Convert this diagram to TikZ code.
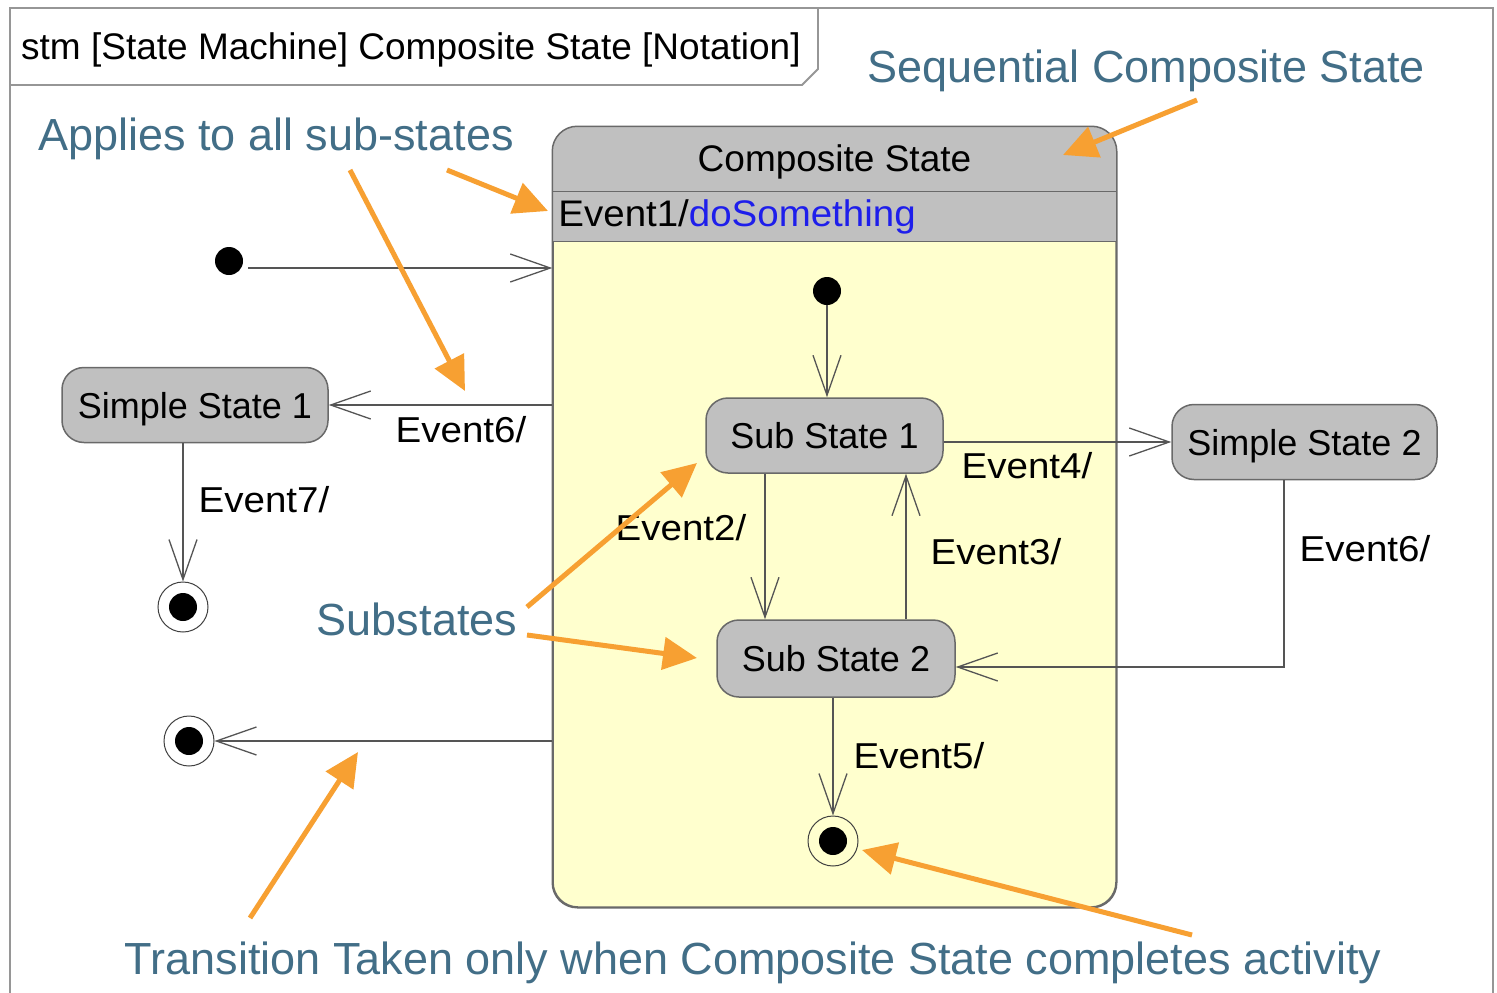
\documentclass[tikz,border=0pt]{standalone}
\usepackage{fontspec}
\setmainfont{Liberation Sans}
\usetikzlibrary{arrows.meta,calc}

\definecolor{stategray}{RGB}{192,192,192}
\definecolor{stateborder}{RGB}{105,105,105}
\definecolor{bodyyellow}{RGB}{255,255,206}
\definecolor{wire}{RGB}{85,85,85}
\definecolor{framegray}{RGB}{150,150,150}
\definecolor{notecol}{RGB}{66,110,135}
\definecolor{pointercol}{RGB}{247,160,50}
\definecolor{actionblue}{RGB}{30,30,235}

\newcommand{\fsz}[1]{\fontsize{#1}{#1}\selectfont}
% slightly widened text, as in the event labels
\newcommand{\wide}[1]{\scalebox{1.07}[1]{#1}}

\begin{document}
\begin{tikzpicture}[x=1pt,y=-1pt,
  state/.style={draw=stateborder, line width=1.5pt, fill=stategray,
    rounded corners=22pt, minimum height=75pt, inner sep=0pt, text depth=0pt,
    font=\fsz{36}},
  initial/.style={circle, fill=black, minimum size=28pt, inner sep=0pt},
  final/.style={circle, draw=black!75, line width=1pt, minimum size=50pt, inner sep=0pt,
    path picture={\fill[black] (path picture bounding box.center) circle (14pt);}},
  tr/.style={draw=wire, line width=1.3pt,
    -{Straight Barb[length=40pt,width=28pt,line width=1.3pt]}},
  evt/.style={font=\fsz{36}, inner sep=0pt},
  note/.style={font=\fsz{45}, text=notecol, inner sep=0pt, text depth=0pt},
  pointer/.style={draw=pointercol, line width=5pt,
    -{Triangle[length=34pt,width=32pt]}},
  frame/.style={draw=framegray, line width=1.8pt}]

\useasboundingbox (0,0) rectangle (1497,993);
\fill[white] (0,0) rectangle (1497,993);

% diagram frame and its name tab
\draw[frame] (10,993) -- (10,8) -- (1493,8) -- (1493,993);
\draw[frame] (10,85) -- (802,85) -- (818,69) -- (818,8);
\node[anchor=west, font=\fsz{37}, inner sep=0pt, text depth=0pt] (hdr) at (21,46)
  {stm [State Machine] Composite State [Notation]};

% composite state: yellow body, grey name and entry compartments
\node[draw=stateborder, line width=1.5pt, fill=bodyyellow, rounded corners=25pt,
  minimum width=563pt, minimum height=780pt, inner sep=0pt] (comp) at (834.5,517) {};
\begin{scope}
  \clip (comp.north west) rectangle ($(comp.north east)+(0,115)$);
  \fill[stategray, rounded corners=25pt] (comp.north west) rectangle (comp.south east);
\end{scope}
\draw[stateborder, line width=1.5pt, rounded corners=25pt]
  (comp.north west) rectangle (comp.south east);
\draw[stateborder, line width=1.5pt]
  ($(comp.north west)+(0,65)$) -- ($(comp.north east)+(0,65)$)
  ($(comp.north west)+(0,115)$) -- ($(comp.north east)+(0,115)$);
\node[font=\fsz{37}, inner sep=0pt, text depth=0pt] (comptitle) at ($(comp.north)+(0,32)$)
  {Composite State};
\node[font=\fsz{37}, anchor=west, inner sep=0pt, text depth=0pt] (entry)
  at ($(comp.north west)+(6,87)$)
  {\scalebox{1.04}[1]{Event1/\textcolor{actionblue}{doSomething}}};

% states
\node[state, minimum width=266pt] (ss1) at (195,405) {Simple State 1};
\node[state, minimum width=237pt] (sub1) at (824.5,435.5) {Sub State 1};
\node[state, minimum width=238pt, minimum height=77pt] (sub2) at (836,658.5) {Sub State 2};
\node[state, minimum width=265pt] (ss2) at (1304.5,442) {Simple State 2};

% pseudo states
\node[initial] (init) at (229,261) {};
\node[initial] (init2) at (827,291) {};
\node[final] (fin1) at (183,607) {};
\node[final] (fin2) at (189,741) {};
\node[final] (fin3) at (833,841) {};

% transitions
\draw[tr] ([shift={(5pt,-7pt)}]init.east) coordinate (a0) -- (a0 -| comp.west);
\draw[tr] (comp.west |- ss1) -- (ss1.east);
\draw[tr] (fin1 |- ss1.south) -- (fin1.north);
\draw[tr] (comp.west |- fin2) -- (fin2.east);
\draw[tr] (init2.south) -- (init2 |- sub1.north);
\draw[tr] ([xshift=-59.5pt]sub1.south) coordinate (a2) -- (a2 |- sub2.north);
\draw[tr] ([xshift=70pt]sub2.north) coordinate (a3) -- (a3 |- sub1.south);
\draw[tr] (sub1.east |- ss2) -- (ss2.west);
\draw[tr] ([xshift=-20.5pt]ss2.south) |- ([yshift=-8.5pt]sub2.east);
\draw[tr] (fin3 |- sub2.south) -- (fin3.north);

% transition labels
\node[evt] (e6a) at (461,430) {\wide{Event6/}};
\node[evt] (e7) at (264,500) {\wide{Event7/}};
\node[evt] (e2) at (681,528) {\wide{Event2/}};
\node[evt] (e3) at (996,552) {\wide{Event3/}};
\node[evt] (e4) at (1027,466) {\wide{Event4/}};
\node[evt] (e6b) at (1365,549) {\wide{Event6/}};
\node[evt] (e5) at (919,756) {\wide{Event5/}};

% annotations
\node[note] (seq) at (1146,66) {Sequential Composite State};
\node[note] (applies) at (276,134) {Applies to all sub-states};
\node[note] (subs) at (417,619) {Substates};
\node[note] (trans) at (753,958) {Transition Taken only when Composite State completes activity};

\coordinate (p1) at (1197,100);  \coordinate (q1) at (1063,155);
\coordinate (p2) at (447,170);   \coordinate (q2) at (548,211);
\coordinate (p3) at (350,170);   \coordinate (q3) at (465,391);
\coordinate (p4) at (527,607);   \coordinate (q4) at (697,463);
\coordinate (p5) at (527,635);   \coordinate (q5) at (697,658);
\coordinate (p6) at (250,918);   \coordinate (q6) at (358,752);
\coordinate (p7) at (1192,935);  \coordinate (q7) at (862,850);
\foreach \i in {1,...,7} \draw[pointer] (p\i) -- (q\i);

\end{tikzpicture}
\end{document}
